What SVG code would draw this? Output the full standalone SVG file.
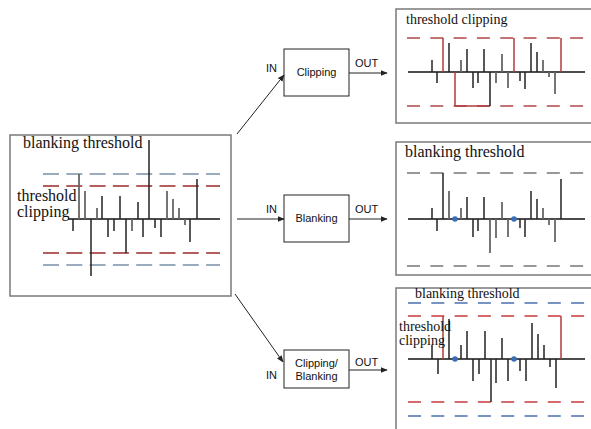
<svg xmlns="http://www.w3.org/2000/svg" width="591" height="429" viewBox="0 0 591 429">
<style>
.frame{fill:#fff;stroke:#7a7a7a;stroke-width:1.5}
.blk{fill:#fff;stroke:#222;stroke-width:1}
.base{stroke:#111;stroke-width:1.3}
.sk{stroke:#222;stroke-width:1.5}
.sg{stroke:#666;stroke-width:1.8}
.sr{stroke:#b03a3a;stroke-width:1.5}
.dr{stroke:#9a2a2a;stroke-width:1.5;stroke-dasharray:16 7.3}
.db{stroke:#7890a8;stroke-width:1.5;stroke-dasharray:16 7.3}
.dr2{stroke:#b04848;stroke-width:1.6;stroke-dasharray:13 10.3}
.dg{stroke:#777;stroke-width:1.5;stroke-dasharray:13 10.3}
.dr3{stroke:#c83a3e;stroke-width:1.6;stroke-dasharray:13 10.3}
.db3{stroke:#4a70b0;stroke-width:1.6;stroke-dasharray:13 10.3}
.serif{font-family:"Liberation Serif","Times New Roman",serif;fill:#111}
.sans{font-family:"Liberation Sans",Arial,sans-serif;font-size:11px;fill:#111}
.conn{stroke:#222;stroke-width:1;fill:none;marker-end:url(#ah)}
.dot{fill:#3a6fb5}
</style>
<defs>
<marker id="ah" viewBox="0 0 10 10" refX="9" refY="5" markerWidth="7" markerHeight="7" orient="auto" markerUnits="userSpaceOnUse">
<path d="M0,1 L10,5 L0,9 z" fill="#222"/>
</marker>
</defs>

<g id="input-signal">
<rect class="frame" x="10" y="135" width="221" height="161"/>
<line class="db" x1="43" y1="174" x2="220" y2="174"/>
<line class="dr" x1="43" y1="186" x2="220" y2="186"/>
<line class="dr" x1="43" y1="253" x2="220" y2="253"/>
<line class="db" x1="43" y1="265" x2="220" y2="265"/>
<line class="base" x1="68" y1="219" x2="220" y2="219"/>
<line class="sk" x1="73" y1="219" x2="73" y2="231"/>
<line class="sg" x1="79" y1="219" x2="79" y2="174"/>
<line class="sg" x1="85" y1="219" x2="85" y2="191"/>
<line class="sk" x1="91" y1="219" x2="91" y2="276"/>
<line class="sg" x1="97" y1="219" x2="97" y2="208"/>
<line class="sk" x1="102" y1="219" x2="102" y2="196"/>
<line class="sk" x1="108" y1="219" x2="108" y2="237"/>
<line class="sk" x1="114" y1="219" x2="114" y2="231"/>
<line class="sk" x1="120" y1="219" x2="120" y2="196"/>
<line class="sk" x1="126" y1="219" x2="126" y2="253"/>
<line class="sg" x1="132" y1="219" x2="132" y2="231"/>
<line class="sk" x1="138" y1="219" x2="138" y2="202"/>
<line class="sk" x1="143" y1="219" x2="143" y2="237"/>
<line class="sk" x1="149" y1="219" x2="149" y2="140"/>
<line class="sk" x1="155" y1="219" x2="155" y2="228"/>
<line class="sk" x1="161" y1="219" x2="161" y2="237"/>
<line class="sg" x1="167" y1="219" x2="167" y2="191"/>
<line class="sg" x1="173" y1="219" x2="173" y2="199"/>
<line class="sg" x1="179" y1="219" x2="179" y2="208"/>
<line class="sg" x1="185" y1="219" x2="185" y2="225"/>
<line class="sk" x1="190" y1="219" x2="190" y2="242"/>
<line class="sk" x1="197" y1="219" x2="197" y2="179"/>
<text class="serif" x="23" y="148" font-size="16">blanking threshold</text>
<text class="serif" x="17" y="201" font-size="16">threshold</text>
<text class="serif" x="17" y="217" font-size="16">clipping</text>
</g>

<g id="clipping-block">
<rect class="blk" x="284" y="49" width="65" height="47"/>
<text class="sans" x="316.5" y="76" text-anchor="middle">Clipping</text>
<text class="sans" x="266" y="72">IN</text>
<text class="sans" x="355" y="67">OUT</text>
</g>

<g id="blanking-block">
<rect class="blk" x="284" y="195" width="65" height="47"/>
<text class="sans" x="316.5" y="222" text-anchor="middle">Blanking</text>
<text class="sans" x="266" y="213">IN</text>
<text class="sans" x="355" y="213">OUT</text>
</g>

<g id="clipping-blanking-block">
<rect class="blk" x="284" y="350" width="65" height="38"/>
<text class="sans" x="316.5" y="367" text-anchor="middle">Clipping/</text>
<text class="sans" x="316.5" y="380" text-anchor="middle">Blanking</text>
<text class="sans" x="266" y="379">IN</text>
<text class="sans" x="355" y="366">OUT</text>
</g>

<g id="out-clipping">
<rect class="frame" x="396" y="9" width="200" height="114"/>
<text class="serif" x="406" y="24" font-size="14">threshold clipping</text>
<line class="dr2" x1="407" y1="38" x2="587" y2="38"/>
<line class="dr2" x1="407" y1="106" x2="587" y2="106"/>
<line class="base" x1="408" y1="72" x2="585" y2="72"/>
<line class="sr" x1="455" y1="106" x2="490" y2="106"/>
<line class="sk" x1="432" y1="72" x2="432" y2="60"/>
<line class="sk" x1="437" y1="72" x2="437" y2="83"/>
<line class="sr" x1="443" y1="72" x2="443" y2="38"/>
<line class="sk" x1="449" y1="72" x2="449" y2="43"/>
<line class="sr" x1="455" y1="72" x2="455" y2="106"/>
<line class="sg" x1="461" y1="72" x2="461" y2="60"/>
<line class="sk" x1="467" y1="72" x2="467" y2="49"/>
<line class="sk" x1="473" y1="72" x2="473" y2="88"/>
<line class="sk" x1="478" y1="72" x2="478" y2="83"/>
<line class="sk" x1="484" y1="72" x2="484" y2="49"/>
<line class="sk" x1="490" y1="72" x2="490" y2="106"/>
<line class="sg" x1="496" y1="72" x2="496" y2="83"/>
<line class="sg" x1="502" y1="72" x2="502" y2="54"/>
<line class="sg" x1="508" y1="72" x2="508" y2="88"/>
<line class="sr" x1="514" y1="72" x2="514" y2="38"/>
<line class="sk" x1="520" y1="72" x2="520" y2="81"/>
<line class="sk" x1="525" y1="72" x2="525" y2="89"/>
<line class="sk" x1="531" y1="72" x2="531" y2="43"/>
<line class="sk" x1="537" y1="72" x2="537" y2="52"/>
<line class="sg" x1="543" y1="72" x2="543" y2="60"/>
<line class="sg" x1="549" y1="72" x2="549" y2="77"/>
<line class="sg" x1="555" y1="72" x2="555" y2="94"/>
<line class="sr" x1="561" y1="72" x2="561" y2="38"/>
</g>

<g id="out-blanking">
<rect class="frame" x="396" y="142" width="200" height="133"/>
<text class="serif" x="405" y="157" font-size="16">blanking threshold</text>
<line class="dg" x1="407" y1="173" x2="587" y2="173"/>
<line class="dg" x1="407" y1="266" x2="587" y2="266"/>
<line class="base" x1="408" y1="219" x2="585" y2="219"/>
<line class="sk" x1="432" y1="219" x2="432" y2="208"/>
<line class="sk" x1="437" y1="219" x2="437" y2="231"/>
<line class="sk" x1="443" y1="219" x2="443" y2="173"/>
<line class="sg" x1="449" y1="219" x2="449" y2="191"/>
<line class="sg" x1="461" y1="219" x2="461" y2="208"/>
<line class="sk" x1="467" y1="219" x2="467" y2="197"/>
<line class="sk" x1="473" y1="219" x2="473" y2="237"/>
<line class="sk" x1="478" y1="219" x2="478" y2="231"/>
<line class="sk" x1="484" y1="219" x2="484" y2="197"/>
<line class="sg" x1="490" y1="219" x2="490" y2="253"/>
<line class="sg" x1="496" y1="219" x2="496" y2="238"/>
<line class="sg" x1="502" y1="219" x2="502" y2="202"/>
<line class="sg" x1="508" y1="219" x2="508" y2="237"/>
<line class="sk" x1="520" y1="219" x2="520" y2="228"/>
<line class="sk" x1="525" y1="219" x2="525" y2="237"/>
<line class="sk" x1="531" y1="219" x2="531" y2="191"/>
<line class="sk" x1="537" y1="219" x2="537" y2="199"/>
<line class="sg" x1="543" y1="219" x2="543" y2="208"/>
<line class="sg" x1="549" y1="219" x2="549" y2="225"/>
<line class="sg" x1="555" y1="219" x2="555" y2="242"/>
<line class="sk" x1="561" y1="219" x2="561" y2="179"/>
<circle class="dot" cx="455" cy="219" r="2.8"/>
<circle class="dot" cx="514" cy="219" r="2.8"/>
</g>

<g id="out-clipping-blanking">
<rect class="frame" x="396" y="288" width="200" height="150"/>
<text class="serif" x="415" y="298" font-size="14">blanking threshold</text>
<line class="db3" x1="408" y1="303" x2="587" y2="303"/>
<line class="dr3" x1="408" y1="316" x2="587" y2="316"/>
<line class="dr3" x1="408" y1="402" x2="587" y2="402"/>
<line class="db3" x1="408" y1="416" x2="587" y2="416"/>
<line class="base" x1="408" y1="359" x2="585" y2="359"/>
<line class="sk" x1="432" y1="359" x2="432" y2="345"/>
<line class="sk" x1="438" y1="359" x2="438" y2="374"/>
<line class="sr" x1="443" y1="359" x2="443" y2="316"/>
<line class="sk" x1="449" y1="359" x2="449" y2="319"/>
<line class="sk" x1="461" y1="359" x2="461" y2="345"/>
<line class="sk" x1="467" y1="359" x2="467" y2="331"/>
<line class="sk" x1="473" y1="359" x2="473" y2="381"/>
<line class="sk" x1="479" y1="359" x2="479" y2="374"/>
<line class="sk" x1="485" y1="359" x2="485" y2="331"/>
<line class="sk" x1="491" y1="359" x2="491" y2="402"/>
<line class="sk" x1="496" y1="359" x2="496" y2="383"/>
<line class="sk" x1="502" y1="359" x2="502" y2="338"/>
<line class="sk" x1="508" y1="359" x2="508" y2="381"/>
<line class="sk" x1="520" y1="359" x2="520" y2="371"/>
<line class="sk" x1="526" y1="359" x2="526" y2="381"/>
<line class="sk" x1="532" y1="359" x2="532" y2="323"/>
<line class="sk" x1="538" y1="359" x2="538" y2="334"/>
<line class="sk" x1="544" y1="359" x2="544" y2="345"/>
<line class="sk" x1="550" y1="359" x2="550" y2="367"/>
<line class="sk" x1="556" y1="359" x2="556" y2="388"/>
<line class="sr" x1="561" y1="359" x2="561" y2="316"/>
<circle class="dot" cx="455" cy="359" r="2.8"/>
<circle class="dot" cx="514" cy="359" r="2.8"/>
<text class="serif" x="399" y="331" font-size="14">threshold</text>
<text class="serif" x="399" y="345" font-size="14">clipping</text>
</g>

<g id="connectors">
<line class="conn" x1="237" y1="134" x2="284" y2="75"/>
<line class="conn" x1="349" y1="73" x2="387" y2="73"/>
<line class="conn" x1="237" y1="219" x2="284" y2="219"/>
<line class="conn" x1="349" y1="219" x2="387" y2="219"/>
<line class="conn" x1="235" y1="294" x2="283" y2="362"/>
<line class="conn" x1="349" y1="370" x2="387" y2="370"/>
</g>
</svg>
